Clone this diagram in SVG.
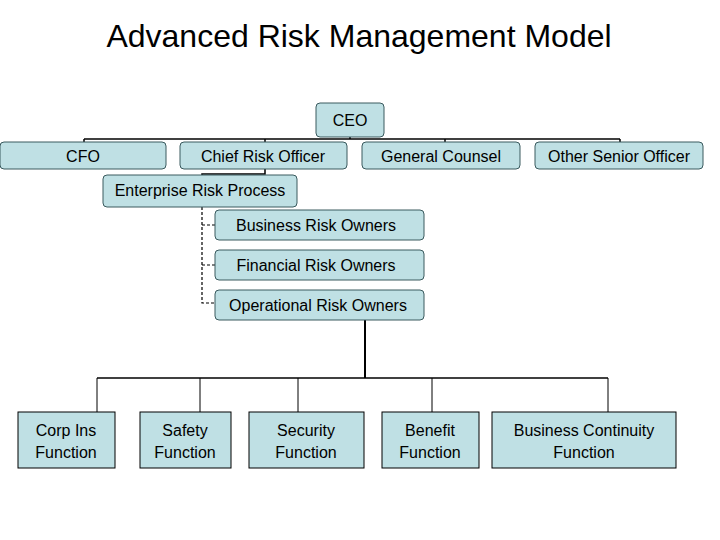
<svg xmlns="http://www.w3.org/2000/svg" width="720" height="540" viewBox="0 0 720 540">
<style>
.b{fill:#bfe0e4;stroke:#000;stroke-width:1}
.r{fill:#bfe0e4;stroke:#3a5a5e;stroke-width:1}
text{font-family:"Liberation Sans",Arial,sans-serif;font-size:16px;fill:#000;text-anchor:middle}
.c line,.c polyline{stroke:#000;fill:none;stroke-width:1.5}
</style>
<rect width="720" height="540" fill="#fff"/>
<text x="359" y="47" style="font-size:32px">Advanced Risk Management Model</text>
<g class="c">
<polyline points="350,136 350,139"/>
<line x1="84" y1="139" x2="620" y2="139"/>
<line x1="84" y1="139" x2="84" y2="143"/>
<line x1="265" y1="139" x2="265" y2="143"/>
<line x1="445" y1="139" x2="445" y2="143"/>
<line x1="620" y1="139" x2="620" y2="143"/>
<polyline points="265,169 265,174 202,174 202,176"/>
<polyline points="202,207 202,303 215,303" style="stroke-dasharray:3,2;stroke-width:1.2"/>
<line x1="202" y1="225" x2="215" y2="225" style="stroke-dasharray:3,2;stroke-width:1.2"/>
<line x1="202" y1="265" x2="215" y2="265" style="stroke-dasharray:3,2;stroke-width:1.2"/>
<line x1="365" y1="320" x2="365" y2="378" style="stroke-width:2"/>
<line x1="97" y1="378" x2="608" y2="378"/>
<line x1="97" y1="378" x2="97" y2="412" style="stroke-width:1"/>
<line x1="200" y1="378" x2="200" y2="412" style="stroke-width:1"/>
<line x1="298" y1="378" x2="298" y2="412" style="stroke-width:1"/>
<line x1="432" y1="378" x2="432" y2="412" style="stroke-width:1"/>
<line x1="608" y1="378" x2="608" y2="412" style="stroke-width:1"/>
</g>
<g id="ceo"><rect class="r" x="316" y="103" width="68" height="34" rx="4"/><text x="350" y="126">CEO</text></g>
<g id="cfo"><rect class="r" x="0" y="142" width="166" height="27" rx="4"/><text x="83" y="162">CFO</text></g>
<g id="cro"><rect class="r" x="180" y="142" width="167" height="27" rx="4"/><text x="263" y="162">Chief Risk Officer</text></g>
<g id="gc"><rect class="r" x="362" y="142" width="158" height="27" rx="4"/><text x="441" y="162">General Counsel</text></g>
<g id="oso"><rect class="r" x="535" y="142" width="168" height="27" rx="4"/><text x="619" y="162">Other Senior Officer</text></g>
<g id="erp"><rect class="r" x="103" y="175" width="194" height="32" rx="4"/><text x="200" y="196">Enterprise Risk Process</text></g>
<g id="bro"><rect class="r" x="215" y="210" width="209" height="30" rx="4"/><text x="316" y="231">Business Risk Owners</text></g>
<g id="fro"><rect class="r" x="215" y="250" width="209" height="30" rx="4"/><text x="316" y="271">Financial Risk Owners</text></g>
<g id="oro"><rect class="r" x="215" y="290" width="209" height="30" rx="4"/><text x="318" y="311">Operational Risk Owners</text></g>
<g id="corp"><rect class="b" x="18" y="412" width="97" height="56"/><text x="66" y="436">Corp Ins</text><text x="66" y="458">Function</text></g>
<g id="safety"><rect class="b" x="140" y="412" width="91" height="56"/><text x="185" y="436">Safety</text><text x="185" y="458">Function</text></g>
<g id="security"><rect class="b" x="249" y="412" width="115" height="56"/><text x="306" y="436">Security</text><text x="306" y="458">Function</text></g>
<g id="benefit"><rect class="b" x="382" y="412" width="97" height="56"/><text x="430" y="436">Benefit</text><text x="430" y="458">Function</text></g>
<g id="bc"><rect class="b" x="492" y="412" width="184" height="56"/><text x="584" y="436">Business Continuity</text><text x="584" y="458">Function</text></g>
</svg>
